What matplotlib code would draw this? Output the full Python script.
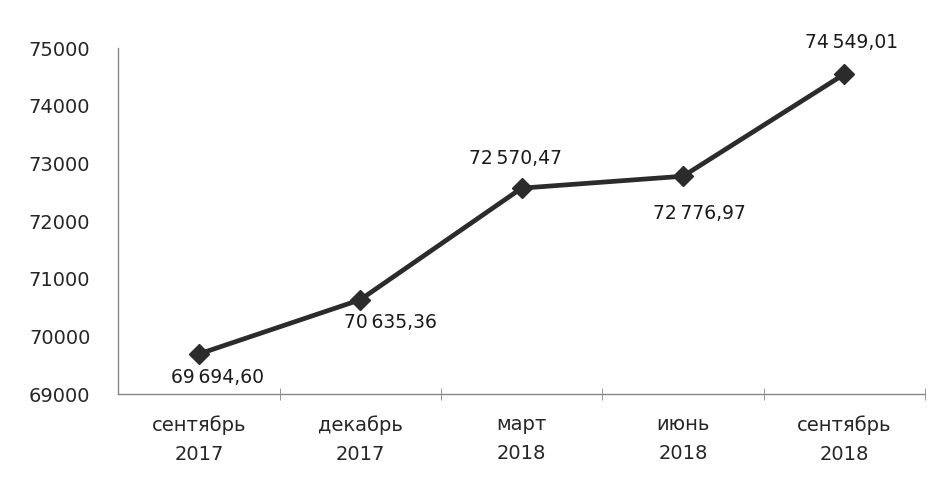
import matplotlib
matplotlib.use("Agg")
import matplotlib.pyplot as plt

categories = ["сентябрь\n2017", "декабрь\n2017", "март\n2018", "июнь\n2018", "сентябрь\n2018"]
values = [69694.60, 70635.36, 72570.47, 72776.97, 74549.01]
y_ticks = [69000, 70000, 71000, 72000, 73000, 74000, 75000]

# label offsets in pixels (styling)
label_offsets = [(19, -23), (30, -23), (-6, 30), (16, -37), (7, 32)]

def fmt(v):
    s = f"{v:,.2f}"
    return s.replace(",", "\u2009").replace(".", ",")

fig = plt.figure(figsize=(9.45, 4.8), dpi=100)
ax = fig.add_axes([0.125, 0.179, 0.854, 0.721])

x = list(range(len(categories)))
ax.plot(x, values, color="#2b2b2b", linewidth=3.4, marker="D", markersize=10,
        markerfacecolor="#2b2b2b", markeredgecolor="#2b2b2b", zorder=3)

for xi, v, off in zip(x, values, label_offsets):
    ax.annotate(fmt(v), (xi, v), xytext=off, textcoords="offset pixels",
                ha="center", va="center", fontsize=13.5, color="#1a1a1a")

ax.set_xlim(-0.5, len(categories) - 0.5)
ax.set_ylim(69000, 75000)
ax.set_yticks(y_ticks)
ax.set_yticklabels([str(t) for t in y_ticks], fontsize=14, color="#262626")
ax.tick_params(axis="y", length=0, pad=20)

ax.set_xticks(x)
ax.set_xticklabels(categories, fontsize=14, color="#262626", linespacing=1.7)
ax.tick_params(axis="x", which="major", length=0, pad=15)
ax.set_xticks([i + 0.5 for i in range(len(categories))], minor=True)
ax.tick_params(axis="x", which="minor", length=8, direction="inout", color="#888888")

for s in ["top", "right"]:
    ax.spines[s].set_visible(False)
for s in ["left", "bottom"]:
    ax.spines[s].set_color("#888888")
    ax.spines[s].set_linewidth(1.0)

fig.savefig("out.png", dpi=100)
